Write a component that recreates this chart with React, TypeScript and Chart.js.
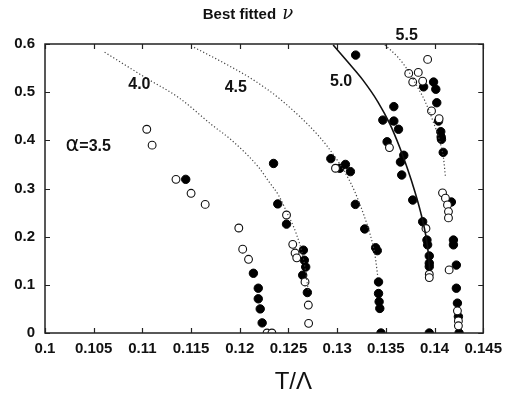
import React, { useEffect, useRef } from "react";
import { Chart, registerables } from "chart.js";

Chart.register(...registerables);

// ---- axis ticks ----
const xTicks = [0.1, 0.105, 0.11, 0.115, 0.12, 0.125, 0.13, 0.135, 0.14, 0.145];
const xTickLabels = ["0.1", "0.105", "0.11", "0.115", "0.12", "0.125", "0.13", "0.135", "0.14", "0.145"];
const yTicks = [0, 0.1, 0.2, 0.3, 0.4, 0.5, 0.6];
const yTickLabels = ["0", "0.1", "0.2", "0.3", "0.4", "0.5", "0.6"];

// ---- data: alpha = 3.5 ----
const a35OpenX = [0.11045, 0.111, 0.11345, 0.115, 0.11645, 0.1199, 0.1203, 0.1209, 0.1228, 0.1233];
const a35OpenY = [0.423, 0.39, 0.319, 0.29, 0.267, 0.218, 0.174, 0.153, 0.0, 0.0];
const a35FilledX = [0.11445, 0.1214, 0.1219, 0.1219, 0.1221, 0.1223];
const a35FilledY = [0.319, 0.124, 0.093, 0.071, 0.05, 0.021];

// ---- alpha = 4.0 ----
const a40OpenX = [0.1248, 0.12544, 0.12568, 0.12585, 0.1267, 0.12704, 0.12707];
const a40OpenY = [0.245, 0.184, 0.166, 0.156, 0.106, 0.058, 0.02];
const a40FilledX = [0.12347, 0.1239, 0.1248, 0.12653, 0.12663, 0.12677, 0.12646, 0.12694];
const a40FilledY = [0.352, 0.268, 0.226, 0.172, 0.151, 0.137, 0.12, 0.084];

// ---- alpha = 4.5 ----
const a45OpenX = [0.12983];
const a45OpenY = [0.342];
const a45FilledX = [0.12935, 0.13027, 0.13085, 0.13136, 0.13187, 0.13283, 0.13395, 0.13412, 0.13425, 0.13425, 0.13431, 0.13438, 0.1345];
const a45FilledY = [0.362, 0.342, 0.35, 0.335, 0.267, 0.216, 0.177, 0.171, 0.106, 0.082, 0.065, 0.051, 0.0];

// ---- alpha = 5.0 ----
const a50OpenX = [0.13537, 0.13912, 0.13946, 0.13946];
const a50OpenY = [0.385, 0.217, 0.122, 0.115];
const a50FilledX = [0.1319, 0.13582, 0.13469, 0.13582, 0.1363, 0.13513, 0.13684, 0.1365, 0.13663, 0.13776, 0.13878, 0.13922, 0.13929, 0.13946, 0.13946, 0.13946, 0.13946];
const a50FilledY = [0.577, 0.47, 0.442, 0.44, 0.423, 0.397, 0.369, 0.355, 0.328, 0.276, 0.231, 0.193, 0.183, 0.16, 0.145, 0.138, 0.0];

// ---- alpha = 5.5 ----
const a55OpenX = [0.13929, 0.13735, 0.13833, 0.13776, 0.13878, 0.13969, 0.14047, 0.14082, 0.14112, 0.14133, 0.14143, 0.14143, 0.1415, 0.14235, 0.14245, 0.14245];
const a55OpenY = [0.568, 0.539, 0.541, 0.521, 0.523, 0.461, 0.445, 0.291, 0.28, 0.266, 0.252, 0.239, 0.131, 0.046, 0.025, 0.015];
const a55FilledX = [0.1399, 0.13888, 0.14013, 0.14023, 0.14041, 0.14064, 0.14068, 0.14071, 0.14089, 0.14173, 0.14194, 0.14194, 0.14224, 0.14224, 0.14235, 0.14245, 0.14252];
const a55FilledY = [0.521, 0.511, 0.506, 0.478, 0.44, 0.418, 0.407, 0.402, 0.375, 0.272, 0.193, 0.183, 0.141, 0.093, 0.062, 0.034, 0.0];

// ---- fitted curves ----
const curve40X = [0.10612, 0.11041, 0.11378, 0.11714, 0.11918, 0.12194, 0.12296, 0.12398, 0.1248, 0.12582, 0.12653, 0.12704];
const curve40Y = [0.583, 0.529, 0.488, 0.432, 0.4, 0.344, 0.315, 0.286, 0.252, 0.205, 0.155, 0.089];
const curve45X = [0.11531, 0.11888, 0.12143, 0.12429, 0.12806, 0.1298, 0.13112, 0.13184, 0.13265, 0.13337, 0.13388, 0.13418];
const curve45Y = [0.593, 0.555, 0.525, 0.483, 0.41, 0.365, 0.322, 0.292, 0.25, 0.206, 0.162, 0.116];
const curve50X = [0.12959, 0.13112, 0.13265, 0.13418, 0.13541, 0.13643, 0.13724, 0.13796, 0.13857, 0.13908, 0.13939, 0.13949];
const curve50Y = [0.598, 0.562, 0.525, 0.48, 0.434, 0.385, 0.34, 0.295, 0.251, 0.205, 0.16, 0.131];
const curve55X = [0.1349, 0.13622, 0.13724, 0.13827, 0.13898, 0.1398, 0.14051, 0.14092, 0.14112];
const curve55Y = [0.598, 0.573, 0.546, 0.51, 0.483, 0.442, 0.4, 0.363, 0.324];

// ---- text ----
const curveLabels = ["4.0", "4.5", "5.0", "5.5"];
const curveLabelX = [0.10969, 0.11959, 0.13041, 0.13714];
const curveLabelY = [0.515, 0.51, 0.521, 0.618];
const alphaLabel = "=3.5";
const titleText = "Best fitted ";
const titleSymbol = "ν";
const xTitle = "T/Λ";

const FONT = "'Liberation Sans', Arial, Helvetica, sans-serif";

const pts = (xs: number[], ys: number[]) => xs.map((x, i) => ({ x, y: ys[i] }));

const decor = {
  id: "decor",
  afterDraw(chart: any) {
    const { ctx, chartArea: ca, scales } = chart;
    const xs = scales.x;
    const ys = scales.y;
    ctx.save();
    // frame
    ctx.strokeStyle = "#222";
    ctx.lineWidth = 1.5;
    ctx.strokeRect(ca.left, ca.top, ca.right - ca.left, ca.bottom - ca.top);
    // inward ticks
    ctx.lineWidth = 1.2;
    ctx.beginPath();
    xTicks.forEach((t) => {
      const px = Math.round(xs.getPixelForValue(t)) + 0.5;
      ctx.moveTo(px, ca.bottom);
      ctx.lineTo(px, ca.bottom - 5);
      ctx.moveTo(px, ca.top);
      ctx.lineTo(px, ca.top + 5);
    });
    yTicks.forEach((t) => {
      const py = Math.round(ys.getPixelForValue(t)) + 0.5;
      ctx.moveTo(ca.left, py);
      ctx.lineTo(ca.left + 5, py);
      ctx.moveTo(ca.right, py);
      ctx.lineTo(ca.right - 5, py);
    });
    ctx.stroke();

    ctx.fillStyle = "#111";
    ctx.textAlign = "center";
    ctx.textBaseline = "middle";
    // curve labels
    ctx.font = `bold 16px ${FONT}`;
    curveLabels.forEach((s, i) => {
      ctx.fillText(s, xs.getPixelForValue(curveLabelX[i]), ys.getPixelForValue(curveLabelY[i]));
    });
    // alpha label
    const ax = xs.getPixelForValue(0.1021);
    const ay = ys.getPixelForValue(0.392);
    ctx.textAlign = "left";
    ctx.textBaseline = "alphabetic";
    ctx.font = `21px 'DejaVu Sans', sans-serif`;
    ctx.fillText("α", ax, ay + 7);
    const aw = ctx.measureText("α").width;
    ctx.font = `bold 16px ${FONT}`;
    ctx.fillText(alphaLabel, ax + aw, ay + 7);

    // title
    ctx.font = `bold 15px ${FONT}`;
    const tw = ctx.measureText(titleText).width;
    ctx.font = `italic 18px 'DejaVu Serif', serif`;
    const sw = ctx.measureText(titleSymbol).width;
    const tx = 247 - (tw + sw) / 2;
    ctx.font = `bold 15px ${FONT}`;
    ctx.fillText(titleText, tx, 19);
    ctx.font = `italic 18px 'DejaVu Serif', serif`;
    ctx.fillText(titleSymbol, tx + tw + 2, 19);

    // x title
    ctx.textAlign = "center";
    ctx.textBaseline = "middle";
    ctx.font = `24px ${FONT}`;
    ctx.fillText(xTitle, xs.getPixelForValue(0.1255), 382);
    ctx.restore();
  },
};

export default function App() {
  const ref = useRef<HTMLCanvasElement | null>(null);
  useEffect(() => {
    if (!ref.current) return;
    const filled = (xs: number[], ys: number[]) => ({
      type: "scatter" as const,
      data: pts(xs, ys),
      pointRadius: 4.2,
      pointBackgroundColor: "#000",
      pointBorderColor: "#000",
      pointBorderWidth: 1,
      showLine: false,
    });
    const open = (xs: number[], ys: number[]) => ({
      type: "scatter" as const,
      data: pts(xs, ys),
      pointRadius: 3.9,
      pointBackgroundColor: "#fff",
      pointBorderColor: "#111",
      pointBorderWidth: 1.1,
      showLine: false,
    });
    const curve = (xs: number[], ys: number[], solid: boolean) => ({
      type: "scatter" as const,
      data: pts(xs, ys),
      showLine: true,
      pointRadius: 0,
      borderColor: solid ? "#111" : "#444",
      borderWidth: solid ? 1.6 : 1.2,
      borderDash: solid ? [] : [1.2, 2.2],
      cubicInterpolationMode: "monotone",
      fill: false,
    });
    const chart = new Chart(ref.current, {
      type: "scatter",
      data: {
        datasets: [
          curve(curve40X, curve40Y, false),
          curve(curve45X, curve45Y, false),
          curve(curve50X, curve50Y, true),
          curve(curve55X, curve55Y, false),
          open(a35OpenX, a35OpenY),
          open(a40OpenX, a40OpenY),
          open(a45OpenX, a45OpenY),
          open(a50OpenX, a50OpenY),
          open(a55OpenX, a55OpenY),
          filled(a35FilledX, a35FilledY),
          filled(a40FilledX, a40FilledY),
          filled(a45FilledX, a45FilledY),
          filled(a50FilledX, a50FilledY),
          filled(a55FilledX, a55FilledY),
        ] as any,
      },
      options: {
        animation: false,
        responsive: true,
        maintainAspectRatio: false,
        layout: { padding: { top: 44, right: 23, left: 0, bottom: 0 } },
        plugins: { legend: { display: false }, tooltip: { enabled: false }, title: { display: false } },
        scales: {
          x: {
            type: "linear",
            min: 0.1,
            max: 0.145,
            grid: { display: false, drawTicks: false },
            border: { display: false },
            afterBuildTicks: (s: any) => {
              s.ticks = xTicks.map((v) => ({ value: v }));
            },
            afterFit: (s: any) => {
              s.height = 64;
            },
            ticks: {
              padding: 7,
              color: "#111",
              font: { family: FONT, size: 15, weight: "bold" },
              maxRotation: 0,
              autoSkip: false,
              callback: (v: any) => {
                const i = xTicks.findIndex((t) => Math.abs(t - v) < 1e-9);
                return i >= 0 ? xTickLabels[i] : "";
              },
            },
          },
          y: {
            type: "linear",
            min: 0,
            max: 0.6,
            grid: { display: false, drawTicks: false },
            border: { display: false },
            afterBuildTicks: (s: any) => {
              s.ticks = yTicks.map((v) => ({ value: v }));
            },
            afterFit: (s: any) => {
              s.width = 45;
            },
            ticks: {
              padding: 10,
              color: "#111",
              font: { family: FONT, size: 15, weight: "bold" },
              autoSkip: false,
              callback: (v: any) => {
                const i = yTicks.findIndex((t) => Math.abs(t - v) < 1e-9);
                return i >= 0 ? yTickLabels[i] : "";
              },
            },
          },
        },
      },
      plugins: [decor],
    });
    return () => chart.destroy();
  }, []);
  return (
    <div style={{ position: "fixed", left: 0, top: 0, width: 509, height: 397, background: "#fff" }}>
      <canvas ref={ref} />
    </div>
  );
}
